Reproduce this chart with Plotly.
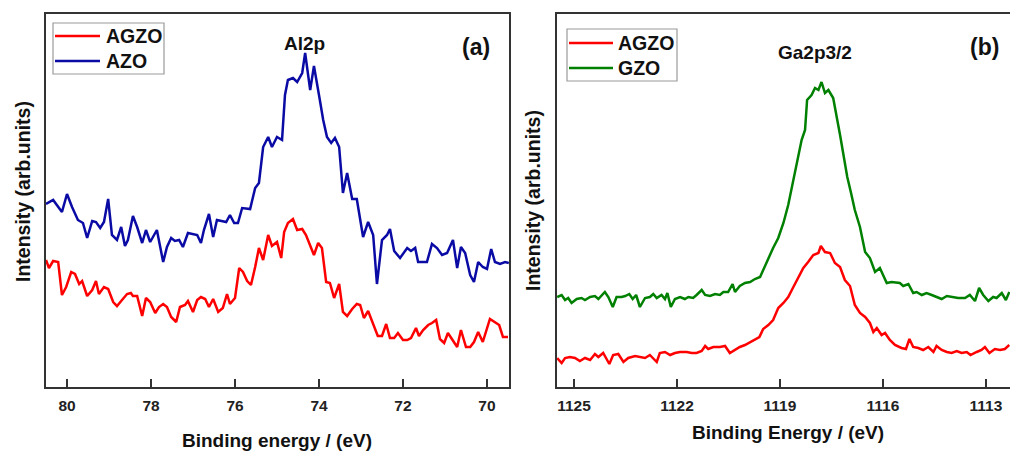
import plotly.graph_objects as go

# ---------------- Al 2p region (panel a) ----------------
al_azo_energy = [
    80.50, 80.33, 80.12, 80.00, 79.88, 79.74, 79.62, 79.52, 79.40, 79.31,
    79.21, 79.12, 79.02, 78.93, 78.81, 78.71, 78.62, 78.55, 78.43, 78.33,
    78.21, 78.12, 78.02, 77.86, 77.71, 77.62, 77.52, 77.43, 77.33, 77.24,
    77.12, 77.00, 76.90, 76.81, 76.74, 76.62, 76.52, 76.43, 76.31, 76.21,
    76.12, 76.02, 75.93, 75.83, 75.64, 75.52, 75.43, 75.33, 75.21, 75.12,
    75.00, 74.88, 74.81, 74.74, 74.62, 74.52, 74.40, 74.33, 74.21, 74.12,
    73.98, 73.90, 73.81, 73.71, 73.62, 73.52, 73.43, 73.33, 73.21, 73.10,
    72.95, 72.83, 72.71, 72.62, 72.50, 72.38, 72.31, 72.21, 72.07, 71.90,
    71.81, 71.71, 71.64, 71.43, 71.31, 71.19, 71.07, 70.95, 70.81, 70.71,
    70.62, 70.52, 70.40, 70.31, 70.21, 70.10, 70.00, 69.90, 69.81, 69.69,
    69.57, 69.48,
]
al_azo_intensity = [
    183, 187, 175, 193, 180, 167, 164, 149, 166, 165,
    159, 165, 188, 152, 147, 160, 141, 147, 171, 160,
    144, 157, 145, 157, 125, 140, 149, 146, 147, 140,
    154, 153, 152, 144, 157, 173, 150, 167, 166, 165,
    172, 164, 164, 179, 178, 199, 204, 240, 250, 240,
    250, 247, 292, 307, 309, 305, 314, 334, 297, 321,
    287, 267, 250, 244, 249, 240, 194, 214, 188, 188,
    150, 165, 152, 103, 147, 152, 158, 136, 129, 139,
    136, 139, 125, 125, 143, 139, 132, 134, 147, 119,
    140, 134, 112, 105, 125, 120, 118, 138, 125, 123,
    125, 124,
]

al_agzo_energy = [
    80.50, 80.43, 80.33, 80.21, 80.12, 80.02, 79.90, 79.81, 79.71, 79.64,
    79.52, 79.40, 79.31, 79.24, 79.12, 79.02, 78.90, 78.81, 78.69, 78.57,
    78.48, 78.43, 78.33, 78.21, 78.12, 78.02, 77.90, 77.81, 77.71, 77.62,
    77.52, 77.40, 77.31, 77.19, 77.12, 77.00, 76.90, 76.81, 76.71, 76.62,
    76.52, 76.40, 76.29, 76.19, 76.12, 76.00, 75.90, 75.81, 75.71, 75.62,
    75.52, 75.43, 75.33, 75.21, 75.12, 75.00, 74.90, 74.83, 74.74, 74.62,
    74.52, 74.40, 74.31, 74.21, 74.12, 74.02, 73.93, 73.83, 73.74, 73.64,
    73.52, 73.43, 73.33, 73.21, 73.10, 73.02, 72.93, 72.83, 72.71, 72.60,
    72.50, 72.40, 72.31, 72.21, 72.12, 72.00, 71.90, 71.81, 71.69, 71.62,
    71.52, 71.40, 71.31, 71.21, 71.12, 71.02, 70.93, 70.81, 70.71, 70.62,
    70.50, 70.40, 70.31, 70.21, 70.10, 69.93, 69.81, 69.71, 69.62, 69.50,
]
al_agzo_intensity = [
    127, 119, 126, 125, 92, 100, 115, 113, 103, 106,
    91, 97, 106, 93, 100, 98, 85, 81, 87, 93,
    94, 91, 91, 71, 89, 85, 74, 80, 83, 80,
    70, 65, 80, 82, 86, 75, 87, 90, 88, 80,
    88, 75, 79, 93, 83, 89, 119, 115, 106, 102,
    120, 139, 127, 152, 141, 145, 129, 155, 164, 168,
    157, 158, 152, 141, 132, 144, 139, 105, 104, 89,
    103, 75, 71, 78, 83, 82, 69, 76, 62, 51,
    51, 63, 49, 49, 54, 47, 47, 49, 59, 51,
    57, 62, 64, 67, 48, 44, 54, 47, 40, 57,
    40, 40, 45, 55, 45, 68, 65, 62, 50, 50,
]

# ---------------- Ga 2p3/2 region (panel b) ----------------
ga_gzo_energy = [
    1125.49, 1125.36, 1125.26, 1125.17, 1125.07, 1124.92, 1124.78, 1124.68, 1124.53, 1124.39,
    1124.29, 1124.10, 1124.00, 1123.87, 1123.76, 1123.61, 1123.51, 1123.39, 1123.29, 1123.19,
    1123.08, 1122.93, 1122.79, 1122.69, 1122.59, 1122.45, 1122.35, 1122.28, 1122.18, 1122.06,
    1121.91, 1121.77, 1121.67, 1121.53, 1121.43, 1121.28, 1121.18, 1121.04, 1120.89, 1120.75,
    1120.65, 1120.51, 1120.38, 1120.31, 1120.17, 1120.02, 1119.87, 1119.73, 1119.58, 1119.49,
    1119.34, 1119.20, 1119.05, 1118.90, 1118.76, 1118.66, 1118.56, 1118.47, 1118.37, 1118.27,
    1118.21, 1118.08, 1117.98, 1117.88, 1117.79, 1117.69, 1117.59, 1117.45, 1117.35, 1117.25,
    1117.16, 1117.04, 1116.93, 1116.82, 1116.67, 1116.52, 1116.38, 1116.23, 1116.09, 1115.89,
    1115.75, 1115.60, 1115.51, 1115.41, 1115.26, 1115.12, 1115.02, 1114.87, 1114.73, 1114.58,
    1114.44, 1114.29, 1114.14, 1113.95, 1113.81, 1113.61, 1113.47, 1113.32, 1113.20, 1113.08,
    1112.93, 1112.79, 1112.69, 1112.54, 1112.42, 1112.32,
]
ga_gzo_intensity = [
    90, 92, 87, 89, 84, 88, 89, 87, 90, 91,
    88, 95, 90, 80, 90, 90, 91, 93, 88, 92,
    80, 89, 90, 93, 89, 92, 88, 94, 80, 88,
    90, 88, 90, 89, 92, 97, 92, 91, 93, 92,
    95, 95, 103, 95, 101, 104, 105, 108, 110, 117,
    127, 139, 149, 164, 182, 199, 217, 230, 247, 257,
    287, 292, 299, 297, 305, 294, 297, 289, 272, 252,
    234, 210, 194, 177, 160, 135, 129, 115, 119, 104,
    105, 104, 104, 101, 103, 94, 95, 92, 94, 92,
    90, 88, 91, 90, 89, 89, 92, 86, 99, 92,
    86, 90, 89, 94, 87, 95,
]

ga_agzo_energy = [
    1125.49, 1125.36, 1125.26, 1125.12, 1124.97, 1124.83, 1124.68, 1124.53, 1124.39, 1124.29,
    1124.15, 1123.97, 1123.86, 1123.71, 1123.56, 1123.42, 1123.22, 1123.08, 1122.93, 1122.79,
    1122.59, 1122.50, 1122.35, 1122.20, 1122.06, 1121.91, 1121.72, 1121.57, 1121.43, 1121.28,
    1121.18, 1121.09, 1120.94, 1120.75, 1120.60, 1120.46, 1120.31, 1120.17, 1120.02, 1119.87,
    1119.73, 1119.60, 1119.49, 1119.34, 1119.20, 1119.05, 1118.90, 1118.76, 1118.61, 1118.47,
    1118.32, 1118.18, 1118.03, 1117.88, 1117.81, 1117.69, 1117.54, 1117.40, 1117.25, 1117.11,
    1116.96, 1116.82, 1116.67, 1116.52, 1116.38, 1116.28, 1116.18, 1116.04, 1115.94, 1115.80,
    1115.65, 1115.46, 1115.33, 1115.23, 1115.12, 1114.97, 1114.83, 1114.68, 1114.53, 1114.44,
    1114.29, 1114.14, 1114.00, 1113.85, 1113.71, 1113.56, 1113.45, 1113.27, 1113.13, 1113.03,
    1112.90, 1112.74, 1112.59, 1112.45, 1112.32,
]
ga_agzo_intensity = [
    29, 24, 29, 30, 29, 26, 29, 27, 33, 30,
    34, 23, 32, 33, 25, 29, 31, 30, 29, 32,
    25, 34, 35, 32, 34, 35, 35, 34, 34, 36,
    41, 38, 40, 40, 41, 34, 37, 40, 42, 45,
    48, 50, 58, 62, 67, 79, 84, 90, 100, 110,
    119, 125, 132, 134, 141, 135, 134, 124, 120, 107,
    101, 82, 74, 70, 64, 55, 59, 52, 54, 47,
    42, 39, 38, 48, 40, 39, 37, 40, 35, 41,
    37, 35, 34, 36, 34, 35, 32, 35, 37, 40,
    34, 38, 37, 38, 42,
]

al_ticks = [80, 78, 76, 74, 72, 70]
ga_ticks = [1125, 1122, 1119, 1116, 1113]

RED = "#ff0000"
BLUE = "#0a0aa5"
GREEN = "#008000"
FRAME = "#333333"
FONT = "Liberation Sans, Arial, sans-serif"

W, H = 1010, 451


def px(x):
    return x / W


def py(y):
    return (H - y) / H


fig = go.Figure()
fig.add_trace(go.Scatter(x=al_agzo_energy, y=al_agzo_intensity, mode="lines",
                         line=dict(color=RED, width=2.5), name="AGZO",
                         xaxis="x", yaxis="y", showlegend=False))
fig.add_trace(go.Scatter(x=al_azo_energy, y=al_azo_intensity, mode="lines",
                         line=dict(color=BLUE, width=2.5), name="AZO",
                         xaxis="x", yaxis="y", showlegend=False))
fig.add_trace(go.Scatter(x=ga_agzo_energy, y=ga_agzo_intensity, mode="lines",
                         line=dict(color=RED, width=2.5), name="AGZO",
                         xaxis="x2", yaxis="y2", showlegend=False))
fig.add_trace(go.Scatter(x=ga_gzo_energy, y=ga_gzo_intensity, mode="lines",
                         line=dict(color=GREEN, width=2.5), name="GZO",
                         xaxis="x2", yaxis="y2", showlegend=False))

tickfont = dict(family=FONT, size=15.5, color="#222222", weight="bold")
common_x = dict(showline=True, linecolor=FRAME, linewidth=2, ticks="inside",
                ticklen=8, tickwidth=2, tickcolor=FRAME, tickfont=tickfont,
                showgrid=False, zeroline=False, ticklabelstandoff=3)
common_y = dict(showline=True, linecolor=FRAME, linewidth=2, showticklabels=False,
                ticks="", showgrid=False, zeroline=False, range=[0, 373])

ydom = [py(387), py(14)]
fig.update_layout(
    width=W, height=H,
    margin=dict(l=0, r=0, t=0, b=0),
    paper_bgcolor="white", plot_bgcolor="white",
    xaxis=dict(domain=[px(46), px(509)], range=[80.5, 69.476],
               tickvals=al_ticks, mirror=True, anchor="y", **common_x),
    yaxis=dict(domain=ydom, mirror=True, anchor="x", **common_y),
    xaxis2=dict(domain=[px(557), 1.0], range=[1125.495, 1112.30],
                tickvals=ga_ticks, mirror=True, anchor="y2", **common_x),
    yaxis2=dict(domain=ydom, mirror=False, anchor="x2", **common_y),
)

ann = []
shapes = []


def text(x, y, s, size, xanchor="center", angle=0):
    ann.append(dict(x=px(x), y=py(y), xref="paper", yref="paper", text=s,
                    showarrow=False, xanchor=xanchor, yanchor="middle",
                    textangle=angle,
                    font=dict(family=FONT, size=size, color="#111111", weight="bold")))


# axis titles
text(277, 440, "Binding energy / (eV)", 19)
text(788, 432, "Binding Energy / (eV)", 19)
text(23, 192, "Intensity (arb.units)", 19.5, angle=-90)
text(533, 201, "Intensity (arb.units)", 19.5, angle=-90)

# peak labels and panel tags
text(304, 43, "Al2p", 19)
text(476, 47, "(a)", 23)
text(815, 52, "Ga2p3/2", 19)
text(984, 47, "(b)", 23)


def legend_box(x0, y0, x1, y1, entries):
    shapes.append(dict(type="rect", xref="paper", yref="paper",
                       x0=px(x0), x1=px(x1), y0=py(y1), y1=py(y0),
                       line=dict(color="#9a9a9a", width=1.2), fillcolor="white"))
    for (ly, color, label, lx0, lx1, tx) in entries:
        shapes.append(dict(type="line", xref="paper", yref="paper",
                           x0=px(lx0), x1=px(lx1), y0=py(ly), y1=py(ly),
                           line=dict(color=color, width=2.5)))
        text(tx, ly, label, 19.5, xanchor="left")


legend_box(53, 23, 164, 74, [
    (36, RED, "AGZO", 55, 100, 104),
    (61, BLUE, "AZO", 55, 100, 104),
])
legend_box(567, 29, 677, 81, [
    (43, RED, "AGZO", 569, 613, 616),
    (68, GREEN, "GZO", 569, 613, 616),
])

fig.update_layout(annotations=ann, shapes=shapes)
fig.write_html("out.html")
